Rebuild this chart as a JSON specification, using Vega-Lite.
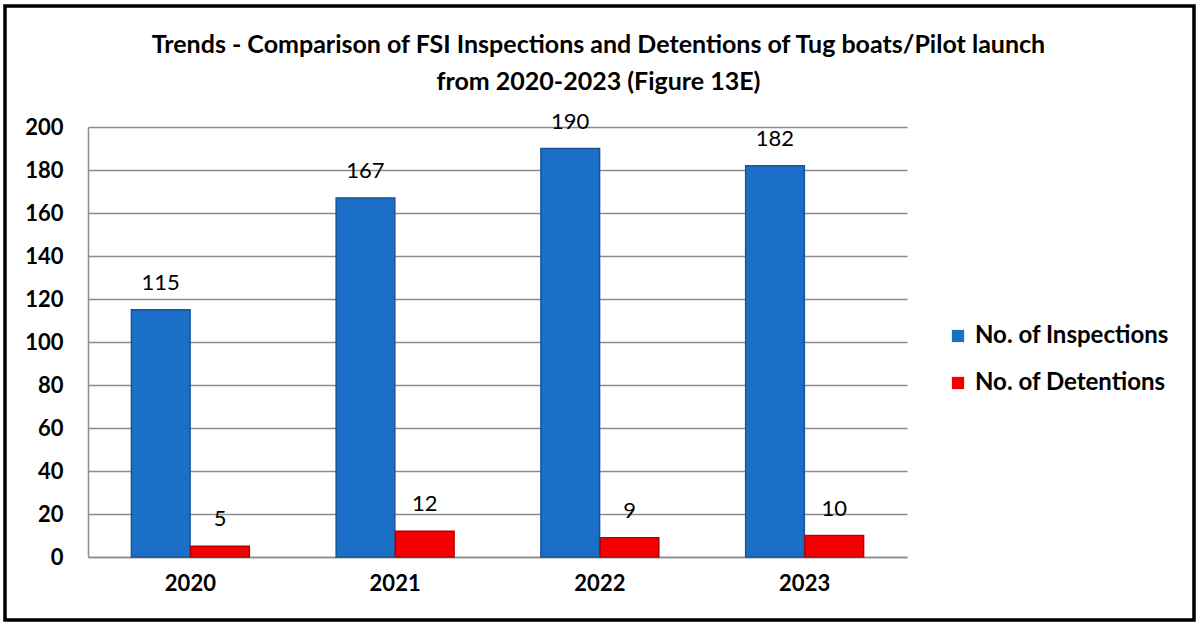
{
  "$schema": "https://vega.github.io/schema/vega-lite/v6.json",
  "width": 819,
  "height": 430,
  "autosize": {"type": "none"},
  "padding": {"left": 88, "top": 127, "right": 291, "bottom": 67},
  "background": "white",
  "title": {
    "text": ["Trends - Comparison of FSI Inspections and Detentions of Tug boats/Pilot launch", "from 2020-2023 (Figure 13E)"],
    "font": "Lato",
    "fontSize": 25,
    "fontWeight": "bold",
    "color": "black",
    "anchor": "middle",
    "dx": 101,
    "lineHeight": 37,
    "offset": -91
  },
  "data": {
    "values": [
      {"year": "2020", "series": "No. of Inspections", "value": 115},
      {"year": "2020", "series": "No. of Detentions", "value": 5},
      {"year": "2021", "series": "No. of Inspections", "value": 167},
      {"year": "2021", "series": "No. of Detentions", "value": 12},
      {"year": "2022", "series": "No. of Inspections", "value": 190},
      {"year": "2022", "series": "No. of Detentions", "value": 9},
      {"year": "2023", "series": "No. of Inspections", "value": 182},
      {"year": "2023", "series": "No. of Detentions", "value": 10}
    ]
  },
  "layer": [
    {
      "mark": {"type": "bar", "strokeWidth": 1.5},
      "encoding": {
        "x": {
          "field": "year", "type": "nominal",
          "scale": {"paddingInner": 0.424, "paddingOuter": 0.212},
          "axis": {"title": null, "labelAngle": 0, "labelFont": "Lato", "labelFontSize": 22, "labelFontWeight": "bold", "labelColor": "black", "labelPadding": 16, "ticks": false, "domainColor": "#8c8c8c", "domainWidth": 1.5}
        },
        "xOffset": {"field": "series", "type": "nominal", "sort": ["No. of Inspections", "No. of Detentions"], "scale": {"paddingInner": 0.01}},
        "y": {
          "field": "value", "type": "quantitative",
          "scale": {"domain": [0, 200]},
          "axis": {"title": null, "values": [0,20,40,60,80,100,120,140,160,180,200], "labelFont": "Lato", "labelFontSize": 22, "labelFontWeight": "bold", "labelColor": "black", "labelPadding": 25, "ticks": false, "domainColor": "#8c8c8c", "domainWidth": 1.5, "gridColor": "#8c8c8c", "gridWidth": 1.3}
        },
        "color": {
          "field": "series", "type": "nominal",
          "sort": ["No. of Inspections", "No. of Detentions"],
          "scale": {"domain": ["No. of Inspections", "No. of Detentions"], "range": ["#1c6fc6", "#f40000"]},
          "legend": {"title": null, "orient": "none", "legendX": 858, "legendY": 197, "symbolType": "square", "symbolSize": 150, "symbolStrokeWidth": 0, "labelFont": "Lato", "labelFontSize": 24, "labelFontWeight": "bold", "labelColor": "black", "labelLimit": 320, "rowPadding": 23, "labelOffset": 5}
        },
        "stroke": {
          "field": "series", "type": "nominal",
          "scale": {"domain": ["No. of Inspections", "No. of Detentions"], "range": ["#14559a", "#b80000"]},
          "legend": null
        }
      }
    },
    {
      "mark": {"type": "text", "dy": -15, "baseline": "bottom", "font": "Lato", "fontSize": 22, "color": "black"},
      "encoding": {
        "x": {"field": "year", "type": "nominal"},
        "xOffset": {"field": "series", "type": "nominal", "sort": ["No. of Inspections", "No. of Detentions"]},
        "y": {"field": "value", "type": "quantitative"},
        "text": {"field": "value", "type": "quantitative"}
      }
    },
    {
      "data": {"values": [{"frame": 1}]},
      "mark": {"type": "rect", "fill": null, "stroke": "black", "strokeWidth": 3.5, "clip": false, "x": -83, "y": -121, "x2": 1106, "y2": 493},
      "encoding": {}
    }
  ],
  "config": {"view": {"stroke": null}}
}
